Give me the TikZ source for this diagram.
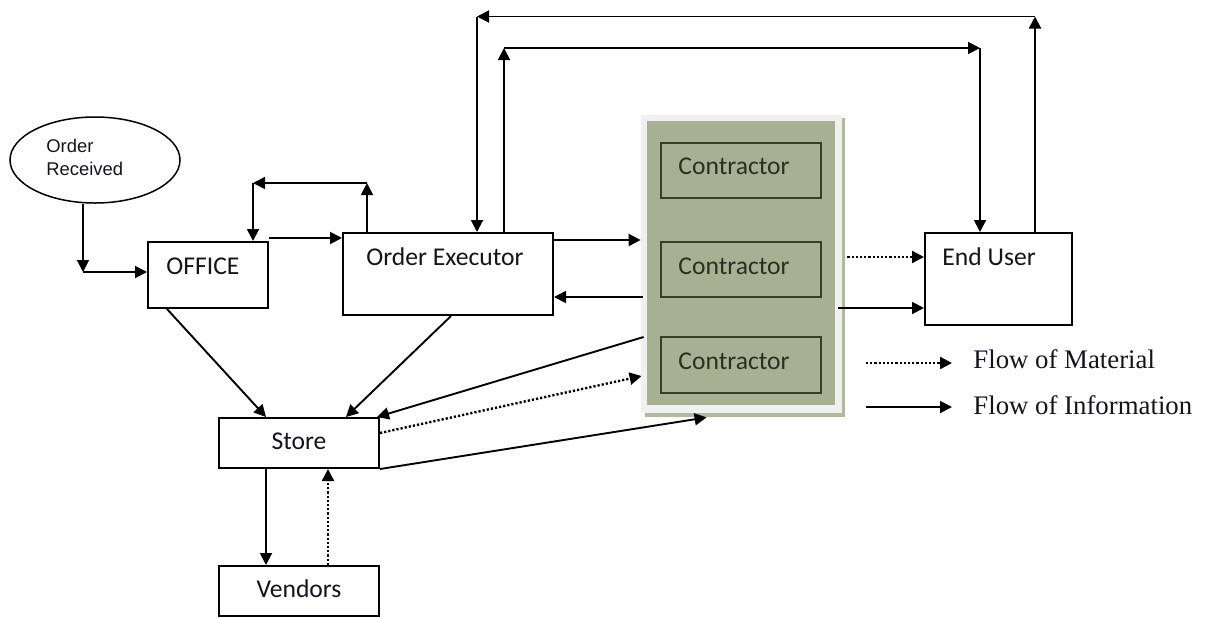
\documentclass[tikz,border=0pt]{standalone}
\usepackage{fontspec}
\newfontfamily\carl{Carlito}
\newfontfamily\lsans{Liberation Sans}
\newfontfamily\lserif{Liberation Serif}
\usetikzlibrary{arrows.meta,fit,calc,shapes.geometric}
\definecolor{panelgreen}{RGB}{167,176,147}
\definecolor{shadowgreen}{RGB}{176,186,158}
\definecolor{panelframe}{RGB}{240,240,240}
\definecolor{boxline}{RGB}{50,64,36}
\definecolor{ctext}{RGB}{44,46,34}
\definecolor{ink}{RGB}{20,20,30}

\begin{document}
\begin{tikzpicture}[x=0.5pt,y=-0.5pt,
  box/.style={draw=black, line width=1pt, fill=white, inner sep=0pt, fit={#1}},
  cbox/.style={draw=boxline, line width=0.8pt, inner sep=0pt, fit={#1}},
  lbl/.style={inner sep=0pt, text=ink, font=\carl\fontsize{12.8}{15}\selectfont},
  clbl/.style={inner sep=0pt, text=ctext, font=\carl\fontsize{12.8}{15}\selectfont},
  info/.style={draw=black, line width=0.95pt, -{Triangle[length=6pt,width=6pt]}},
  mat/.style={info, line width=1.2pt, dash pattern=on 1.1pt off 1pt},
  legtext/.style={inner sep=0pt, anchor=west, text=ink, font=\lserif\fontsize{13.4}{16}\selectfont}]

\useasboundingbox (0,0) rectangle (1213,617);

% ---- boxes ----
\node[draw=black, line width=0.75pt, ellipse, minimum width=85pt, minimum height=43pt, inner sep=0pt] (recv) at (95,160) {};
\node[inner sep=0pt, anchor=west, align=left, text=ink, font=\lsans\fontsize{9.2}{11.5}\selectfont] (recvT) at (46,157) {Order\\Received};

\node[box={(148,242)(268,308)}] (office) {};
\node[lbl, anchor=west] (officeT) at (166,266) {OFFICE};

\node[box={(343,233)(553,315)}] (exec) {};
\node[lbl, anchor=west] (execT) at (366,257) {Order Executor};

\node[box={(925,233)(1072,325)}] (user) {};
\node[lbl, anchor=west] (userT) at (942,257) {End User};

\node[box={(219,418)(379,468)}] (store) {};
\node[lbl] (storeT) at (299,441) {Store};
\node[box={(219,566)(379,616)}] (vendors) {};
\node[lbl] (vendorsT) at (299,589) {Vendors};

% ---- contractor panel with its shadow and light frame ----
\fill[shadowgreen] (645,118) rectangle (845,417);
\node[fill=panelframe, inner sep=0pt, fit={(641,115)(842,413)}] (panel) {};
\node[fill=panelgreen, inner sep=0pt, fit={(647,121)(835,405)}] (panelin) {};

\node[cbox={(661,143)(821,198)}] (c1) {};
\node[cbox={(661,242)(821,297)}] (c2) {};
\node[cbox={(661,337)(821,393)}] (c3) {};
\node[clbl, anchor=west] (c1T) at (678,166) {Contractor};
\node[clbl, anchor=west] (c2T) at (678,266) {Contractor};
\node[clbl, anchor=west] (c3T) at (678,361) {Contractor};

% ---- bend points ----
\coordinate (rB) at (83,272);
\coordinate (lL) at (253,183);
\coordinate (lR) at (367,183);
\coordinate (iL) at (504,48);
\coordinate (iR) at (980,48);
\coordinate (oL) at (477,16.5);
\coordinate (oR) at (1035,16.5);
\coordinate (h1) at (0,238);
\coordinate (h2) at (0,240);
\coordinate (h3) at (0,297);
\coordinate (h4) at (0,257);
\coordinate (h5) at (0,308);

% ---- connectors ----
\draw[info] (rB |- recv.south) -- (rB);
\draw[info] (rB) -- (rB -| office.west);

\draw[info] (h1 -| office.east) -- (h1 -| exec.west);

\draw[info] (lR |- exec.north) -- (lR);
\draw[info] (lR) -- (lL);
\draw[info] (lL) -- (lL |- office.north);

\draw[info] (iL |- exec.north) -- (iL);
\draw[info] (iL) -- (iR);
\draw[info] (iR) -- (iR |- user.north);

\draw[info] (oR |- user.north) -- (oR);
\draw[info] (oR) -- (oL);
\draw[info] (oL) -- (oL |- exec.north);

\draw[info] (h2 -| exec.east) -- (h2 -| panel.west);
\draw[info] ($(h3 -| panel.west)+(2,0)$) -- (h3 -| exec.east);

\draw[mat] ($(h4 -| panel.east)+(5,0)$) -- (h4 -| user.west);
\draw[info] ($(h5 -| panel.east)+(-4,0)$) -- (h5 -| user.west);

\draw[info] ($(office.south west)+(20,0)$) -- ($(store.north west)+(48,0)$);
\draw[info] ($(exec.south west)+(109,0)$) -- ($(store.north west)+(128,0)$);
\draw[info] ($(panel.west)+(3,73)$) -- ($(store.north east)+(-3,0)$);
\draw[mat] ($(store.east)+(0,-10)$) -- ($(panel.west)+(1,112)$);
\draw[info] (store.south east) -- ($(panel.south west)+(66,4)$);

\draw[info] ($(store.south west)+(48,0)$) -- ($(vendors.north west)+(48,0)$);
\draw[mat] ($(vendors.north west)+(110,0)$) -- ($(store.south west)+(110,0)$);

% ---- legend ----
\coordinate (lm) at (866,363);
\coordinate (li) at (866,407);
\draw[mat] (lm) -- ++(86,0);
\draw[info] (li) -- ++(86,0);
\node[legtext] (legM) at (973,359) {Flow of Material};
\node[legtext] (legI) at (973,405) {Flow of Information};

\end{tikzpicture}
\end{document}
